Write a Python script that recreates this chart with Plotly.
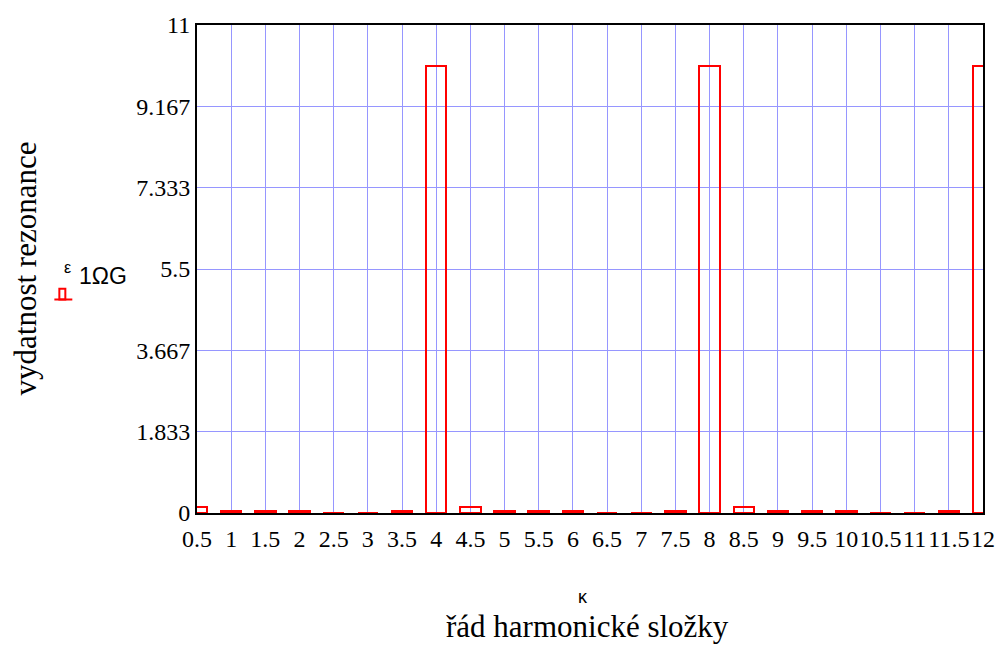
import plotly.graph_objects as go

# data
kappa = [0.5, 1, 1.5, 2, 2.5, 3, 3.5, 4,
         4.5, 5, 5.5, 6, 6.5, 7, 7.5, 8,
         8.5, 9, 9.5, 10, 10.5, 11, 11.5, 12]
eps = [0.14, 0.05, 0.05, 0.05, 0.01, 0.01, 0.05, 10.07,
       0.14, 0.05, 0.05, 0.05, 0.01, 0.01, 0.05, 10.07,
       0.14, 0.05, 0.05, 0.05, 0.01, 0.01, 0.05, 10.07]
x_ticks = [0.5, 1, 1.5, 2, 2.5, 3, 3.5, 4, 4.5, 5, 5.5, 6, 6.5, 7, 7.5, 8,
           8.5, 9, 9.5, 10, 10.5, 11, 11.5, 12]
x_tick_text = ["0.5", "1", "1.5", "2", "2.5", "3", "3.5", "4", "4.5", "5", "5.5", "6",
               "6.5", "7", "7.5", "8", "8.5", "9", "9.5", "10", "10.5", "11", "11.5", "12"]
y_ticks = [0, 11/6, 11/3, 5.5, 22/3, 55/6, 11]
y_tick_text = ["0", "1.833", "3.667", "5.5", "7.333", "9.167", "11"]

W, H = 1007, 647
L, R, T, B = 197, 22, 17, 134
pw, ph = W - L - R, H - T - B

def px(x):
    return (x - L) / pw

def py(y):
    return (H - B - y) / ph

fig = go.Figure()
fig.add_trace(go.Bar(
    x=kappa, y=eps, width=0.3,
    marker=dict(color="rgba(0,0,0,0)", line=dict(color="#ff0000", width=2)),
    showlegend=False,
))

serif = "Liberation Serif"
grid = "rgb(150,150,255)"
fig.update_layout(
    width=W, height=H,
    margin=dict(l=L, r=R, t=T, b=B),
    paper_bgcolor="white", plot_bgcolor="white",
    font=dict(family=serif, size=24, color="black"),
    xaxis=dict(range=[0.5, 12], tickmode="array", tickvals=x_ticks, ticktext=x_tick_text,
               tickangle=0, showgrid=True, gridcolor=grid, gridwidth=1,
               showline=True, linecolor="black", linewidth=2, mirror=True,
               ticks="", zeroline=False, ticklabelstandoff=3,
               tickfont=dict(family=serif, size=24)),
    yaxis=dict(range=[0, 11], tickmode="array", tickvals=y_ticks, ticktext=y_tick_text,
               showgrid=True, gridcolor=grid, gridwidth=1,
               showline=True, linecolor="black", linewidth=2, mirror=True,
               ticks="", zeroline=False, tickfont=dict(family=serif, size=24)),
    bargap=0,
)

ann = [
    dict(text="vydatnost rezonance", x=px(25), y=py(264), textangle=-90,
         font=dict(family=serif, size=31)),
    dict(text="ε", x=px(67), y=py(263), font=dict(family="Liberation Sans", size=16)),
    dict(text="1ΩG", x=px(103), y=py(272), font=dict(family="Liberation Sans", size=23)),
    dict(text="κ", x=px(584), y=py(598), font=dict(family="Liberation Sans", size=18)),
    dict(text="řád harmonické složky", x=px(588), y=py(628),
         font=dict(family=serif, size=31)),
]
for a in ann:
    a.update(xref="paper", yref="paper", showarrow=False, xanchor="center", yanchor="middle")
fig.update_layout(annotations=ann)

fig.add_shape(type="rect", xref="paper", yref="paper",
              x0=px(59), x1=px(65), y0=py(296), y1=py(285),
              line=dict(color="#ff0000", width=2))
fig.add_shape(type="line", xref="paper", yref="paper",
              x0=px(54), x1=px(72), y0=py(296), y1=py(296),
              line=dict(color="#ff0000", width=2))

fig.write_html("out.html", config={"displayModeBar": False},
               post_script="document.body.style.margin='0px';document.body.style.overflow='hidden';")
